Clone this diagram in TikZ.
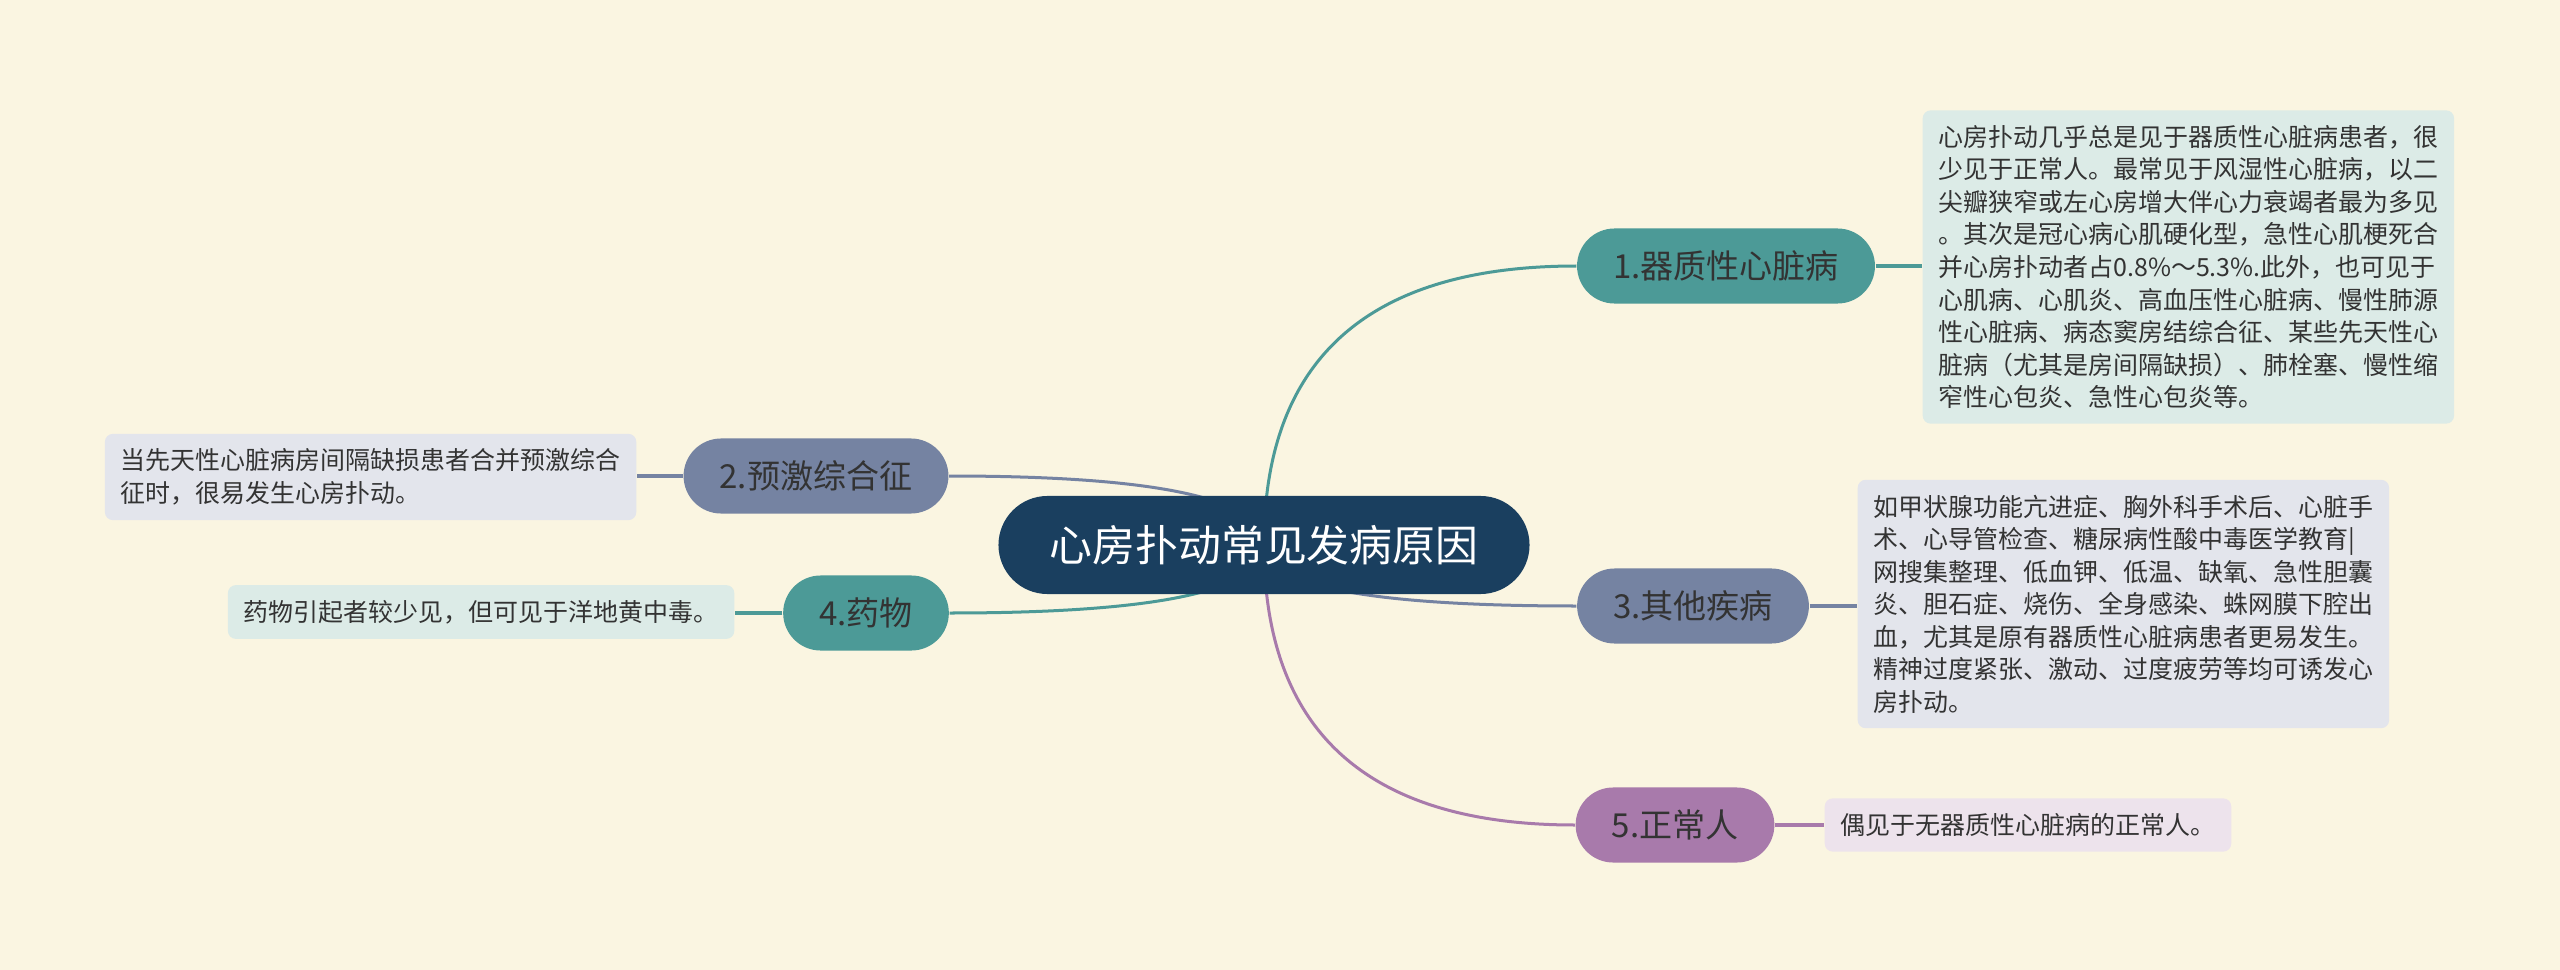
\documentclass[tikz,border=0pt]{standalone}
\usepackage{fontspec}
\setmainfont{Noto Sans CJK SC}
\usepackage{xcolor}
\usepackage{tikz}
\usetikzlibrary{calc}

\definecolor{paper}{HTML}{FAF5E1}
\definecolor{navy}{HTML}{1A3F5F}
\definecolor{teal}{HTML}{4C9A97}
\definecolor{slate}{HTML}{7583A2}
\definecolor{plum}{HTML}{A87AAB}
\definecolor{tealpale}{HTML}{DCEBE7}
\definecolor{slatepale}{HTML}{E3E5EC}
\definecolor{plumpale}{HTML}{EDE3EC}
\definecolor{ink}{HTML}{333333}

\pgfdeclarelayer{paperlayer}
\pgfdeclarelayer{edges}
\pgfsetlayers{paperlayer,edges,main}

\tikzset{
  topic/.style={rectangle, rounded corners=0.49cm, fill=navy, text=white,
    minimum height=0.98cm, inner xsep=0.51cm, font=\fontsize{12.2}{14}\selectfont},
  branch/.style={rectangle, rounded corners=0.375cm, minimum height=0.75cm,
    inner xsep=0.36cm, text=ink, font=\fontsize{9.4}{11}\selectfont},
  note/.style={rectangle, rounded corners=0.08cm, inner xsep=0.16cm, inner ysep=0.15cm,
    align=left, text=ink, font=\fontsize{7.1}{9.25}\selectfont},
  wire/.style={line width=0.03cm},
  stub/.style={line width=0.04cm},
}

% smooth branch from the centre: quadratic bend through the corner point
\newcommand{\limb}[3]{%
  \draw[wire, #1] (#2.center) .. controls ($(#2.center)!2/3!(#2.center |- #3)$)
    and ($(#3)!2/3!(#2.center |- #3)$) .. (#3);}

\begin{document}
\begin{tikzpicture}[x=0.01cm, y=-0.01cm]
\begin{pgfonlayer}{paperlayer}
\fill[paper] (0,0) rectangle (2560,970);
\end{pgfonlayer}

% centre
\node[topic] (root) at (1264,545) {心房扑动常见发病原因};

% branches
\node[branch, fill=teal] (organic) at (1726,266) {1.器质性心脏病};
\node[branch, fill=slate] (wpw) at (816,476) {2.预激综合征};
\node[branch, fill=slate] (other) at (1693,606) {3.其他疾病};
\node[branch, fill=teal] (drug) at (866,613) {4.药物};
\node[branch, fill=plum] (normal) at (1675,825) {5.正常人};

% notes
\node[note, fill=tealpale, anchor=west] (organicnote) at (1922,267) {心房扑动几乎总是见于器质性心脏病患者，很\\
少见于正常人。最常见于风湿性心脏病，以二\\
尖瓣狭窄或左心房增大伴心力衰竭者最为多见\\
。其次是冠心病心肌硬化型，急性心肌梗死合\\
并心房扑动者占0.8\%～5.3\%.此外，也可见于\\
心肌病、心肌炎、高血压性心脏病、慢性肺源\\
性心脏病、病态窦房结综合征、某些先天性心\\
脏病（尤其是房间隔缺损）、肺栓塞、慢性缩\\
窄性心包炎、急性心包炎等。};
\node[note, fill=slatepale, anchor=east] (wpwnote) at (637,477) {当先天性心脏病房间隔缺损患者合并预激综合\\
征时，很易发生心房扑动。};
\node[note, fill=slatepale, anchor=west] (othernote) at (1857,604) {如甲状腺功能亢进症、胸外科手术后、心脏手\\
术、心导管检查、糖尿病性酸中毒医学教育|\\
网搜集整理、低血钾、低温、缺氧、急性胆囊\\
炎、胆石症、烧伤、全身感染、蛛网膜下腔出\\
血，尤其是原有器质性心脏病患者更易发生。\\
精神过度紧张、激动、过度疲劳等均可诱发心\\
房扑动。};
\node[note, fill=tealpale, anchor=east] (drugnote) at (735,612) {药物引起者较少见，但可见于洋地黄中毒。};
\node[note, fill=plumpale, anchor=west] (normalnote) at (1824,825) {偶见于无器质性心脏病的正常人。};

\begin{pgfonlayer}{edges}
\limb{teal}{root}{organic.west}
\limb{slate}{root}{wpw.east}
\limb{slate}{root}{other.west}
\limb{teal}{root}{drug.east}
\limb{plum}{root}{normal.west}

\draw[stub, teal] (organic.east) -- (organicnote.west |- organic.east);
\draw[stub, slate] (wpw.west) -- (wpwnote.east |- wpw.west);
\draw[stub, slate] (other.east) -- (othernote.west |- other.east);
\draw[stub, teal] (drug.west) -- (drugnote.east |- drug.west);
\draw[stub, plum] (normal.east) -- (normalnote.west |- normal.east);
\end{pgfonlayer}
\end{tikzpicture}
\end{document}
